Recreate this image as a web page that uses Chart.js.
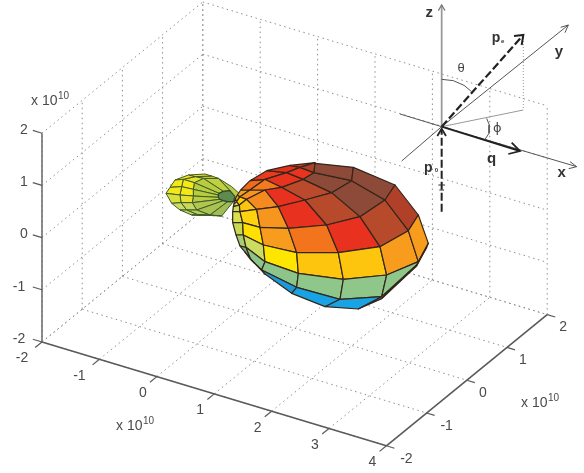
<!DOCTYPE html>
<html><head><meta charset="utf-8">
<style>html,body{margin:0;padding:0;background:#fff}canvas{display:block}</style>
<script src="https://cdn.jsdelivr.net/npm/chart.js@4"></script>
</head><body><canvas id="c" width="584" height="473"></canvas>
<script>
// ---- axis ticks (units of 10^10)
const xTicks=[-2,-1,0,1,2,3,4];
const yTicks=[-2,-1,0,1,2];
const zTicks=[-2,-1,0,1,2];
// ---- large lobe mesh in view-plane units (rows of [h,v])
const largeLobeRows=[
[[252,188],[256,176],[262,165],[272,150],[300,122],[350,92],[420,76],[495,68]],
[[252,192],[260,185],[270,170],[300,150],[345,118],[410,98],[450,82],[495,68]],
[[250,200],[268,195],[290,178],[345,150],[395,142],[460,118],[492,98],[495,70]],
[[248,215],[270,215],[320,208],[385,200],[465,180],[545,158],[605,122],[610,82]],
[[248,248],[278,248],[330,262],[415,265],[530,255],[630,230],[705,180],[735,135]],
[[258,285],[280,285],[340,315],[440,338],[565,338],[690,320],[775,272],[805,225]],
[[270,318],[288,322],[345,365],[445,400],[580,418],[710,405],[805,365],[835,310]],
[[284,335],[302,358],[335,390],[440,442],[570,478],[695,470],[800,375],[830,322]],
[[298,352],[314,370],[345,402],[425,460],[525,500],[625,507],[695,476],[800,378]]
];
const largeLobeColors=[
['#d8c840','#e8b020','#f4a020','#f06a1c','#ec3a1e','#e6301e','#d03a22'],
['#e0d040','#ffd000','#f7941e','#f47a20','#e8331f','#e8331f','#b0402a'],
['#cfdc50','#fdc50e','#f58a1e','#e8311f','#bb4a2c','#8e4a38','#8e4a38'],
['#d8e050','#fdd20e','#f7961e','#e8311f','#b84a2c','#8e4a38','#8e4a38'],
['#c8d850','#ffe000','#f89c1e','#f2741c','#e8311f','#b84a2c','#b04028'],
['#a8cc70','#ccdc60','#ffe600','#fdc50e','#fdc50e','#f89c1e','#f89c1e'],
['#7ab870','#8cc48a','#8cc48a','#8fc78a','#8fc78a','#8fc78a','#8fc78a'],
['#2090b0','#1a9ac8','#1a9ad8','#18a4e4','#18a4e4','#4a9a80','#5a9a70']
];
// ---- small lobe mesh: rays from the neck, each with its ring points
const smallLobeRows=[
[[240,152],[205,115],[185,108],[165,102]],
[[220,154],[160,115],[135,110],[115,105]],
[[207,160],[133,128],[100,118],[75,120]],
[[205,165],[130,148],[95,140],[60,142]],
[[205,172],[130,168],[90,165],[48,160]],
[[210,178],[127,188],[93,188],[65,190]],
[[220,182],[140,210],[110,210],[90,210]],
[[233,185],[180,225],[145,225],[125,225]],
[[250,185],[215,228],[195,227],[175,225]]
];
const smallLobeColors=[
['#c0d040','#e0d830','#e6d830'],
['#b8cc40','#e8e030','#f0e020'],
['#b8cc40','#f5e818','#f5e818'],
['#b8cc40','#f5e818','#f5e818'],
['#b8cc44','#e8e030','#d8e040'],
['#b0c650','#c8d85a','#cddc66'],
['#a8c254','#b8cc5e','#c0d460'],
['#a0bc54','#b0c860','#b0c860']
];
const smallLobeHub=[[240,152],[220,154],[207,160],[205,165],[205,172],[210,178],[220,182],[233,185],[250,185],[255,170]];
const smallLobeBack=[[205,115],[245,140],[273,165],[250,185],[240,152]];
// ---- inset diagram (polylines, view-plane units)
const insetZAxis=[[875,-40],[875,-405]];
const insetZHead=[[865,-388],[875,-405],[885,-388]];
const insetXAxis=[[750,-78],[875,-40],[1280,80]];
const insetXHead=[[1260,65],[1280,80],[1256,86]];
const insetYAxis=[[755,63],[875,-40],[1255,-345]];
const insetYHead=[[1232,-338],[1255,-345],[1245,-322]];
const insetPe=[[875,-40],[1120,-315]];
const insetPeHead=[[1092,-312],[1120,-315],[1115,-285]];
const insetP0=[[875,215],[875,-30]];
const insetP0Head=[[862,-12],[875,-34],[888,-12]];
const insetQ=[[875,-40],[1110,33]];
const insetQHead=[[1085,8],[1110,33],[1075,42]];
const insetDrop=[[1120,-315],[1120,-90]];
const insetFoot=[[875,-40],[1120,-90]];
const insetTheta=[[875,-182],[910,-178],[942,-164],[965,-145]];
const insetPhi=[[1010,-65],[1018,-45],[1017,-20],[1005,-2]];
const insetBar1=[[865,135],[885,135]];
const insetBar2=[[868,150],[882,150]];
// ---- texts
const tickColor='#4a4a4a';
const ux=[172.2,51.9],uy=[120.6,-98.4],uz=[0,-156.6],O=[-324,606];
function project(x,y,z){
  return {x:O[0]+(x+2)*ux[0]+(y+2)*uy[0]+(z+2)*uz[0],
          y:O[1]+(x+2)*ux[1]+(y+2)*uy[1]+(z+2)*uz[1]};
}
const datasets=[];
function addLine(points,color,width,dash){
  datasets.push({type:'scatter',data:points,showLine:true,tension:0,fill:false,
    borderColor:color,borderWidth:width,borderDash:dash||[],pointRadius:0,borderCapStyle:'butt'});
}
function addPoly(pts,fillColor,lineColor,width){
  const closed=pts.concat([pts[0]]).map(p=>({x:p[0],y:p[1]}));
  datasets.push({type:'scatter',data:closed,showLine:true,tension:0,fill:'shape',backgroundColor:fillColor,
    borderColor:lineColor,borderWidth:width,pointRadius:0,borderJoinStyle:'round'});
}
const toXY=a=>a.map(p=>({x:p[0],y:p[1]}));
// grid
const gridColor='#8f8f8f',dots=[1.5,3.5];
xTicks.forEach(x=>{
  addLine([project(x,-2,-2),project(x,2,-2)],gridColor,1,dots);
  addLine([project(x,2,-2),project(x,2,2)],gridColor,1,dots);
});
yTicks.forEach(y=>{
  addLine([project(-2,y,-2),project(4,y,-2)],gridColor,1,dots);
  addLine([project(-2,y,-2),project(-2,y,2)],gridColor,1,dots);
});
zTicks.forEach(z=>{
  addLine([project(-2,-2,z),project(-2,2,z)],gridColor,1,dots);
  addLine([project(-2,2,z),project(4,2,z)],gridColor,1,dots);
});
// axes
const axisColor='#5a5a5a';
addLine([project(-2,-2,-2),project(4,-2,-2)],axisColor,1.6);
addLine([project(4,-2,-2),project(4,2,-2)],axisColor,1.6);
addLine([project(-2,-2,-2),project(-2,-2,2)],'#707070',1.6);
xTicks.forEach(x=>addLine([project(x,-2,-2),project(x,-2.17,-2)],axisColor,1.2));
yTicks.forEach(y=>addLine([project(4,y,-2),project(4.14,y,-2)],axisColor,1.2));
zTicks.forEach(z=>addLine([project(-2,-2,z),project(-2.16,-2,z)],axisColor,1.2));
// small lobe
addPoly(smallLobeBack,'#b8cc48','#3f5a24',1);
for(let r=0;r<smallLobeColors.length;r++)for(let c=0;c<smallLobeColors[r].length;c++){
  const A=smallLobeRows[r],B=smallLobeRows[r+1];
  addPoly([A[c],A[c+1],B[c+1],B[c]],smallLobeColors[r][c],'#3f5a24',1);
}
addPoly(smallLobeHub,'#5f8a50','#2f4a2a',1.2);
// large lobe
for(let r=0;r<largeLobeColors.length;r++)for(let c=0;c<largeLobeColors[r].length;c++){
  const A=largeLobeRows[r],B=largeLobeRows[r+1];
  addPoly([A[c],A[c+1],B[c+1],B[c]],largeLobeColors[r][c],'#33261a',1.2);
}
// inset
addLine(toXY(insetZAxis),'#9a9a9a',1.8);addLine(toXY(insetZHead),'#777',1.2);
addLine(toXY(insetDrop),'#999',1,[1,2]);
addLine(toXY(insetFoot),'#999',1);
addLine(toXY(insetXAxis),'#555',1);addLine(toXY(insetXHead),'#555',1);
addLine(toXY(insetYAxis),'#555',1);addLine(toXY(insetYHead),'#555',1);
addLine(toXY(insetPe),'#222',2.2,[8,3]);addLine(toXY(insetPeHead),'#222',2);
addLine(toXY(insetP0),'#222',2,[8,3]);addLine(toXY(insetP0Head),'#222',1.8);
addLine(toXY(insetQ),'#222',2);addLine(toXY(insetQHead),'#222',1.8);
addLine(toXY(insetTheta),'#555',1);addLine(toXY(insetPhi),'#555',1);
addLine(toXY(insetBar1),'#333',1);addLine(toXY(insetBar2),'#333',1);
// chart draws later datasets first: keep painter order
datasets.forEach((d,i)=>{d.order=datasets.length-i;});

const textPlugin={id:'texts',afterDatasetsDraw(chart){
  const {ctx,scales:{x:sx,y:sy}}=chart;
  const P=p=>({x:sx.getPixelForValue(p.x),y:sy.getPixelForValue(p.y)});
  const T=(s,px,py,font,color,align)=>{ctx.font=font;ctx.fillStyle=color;ctx.textAlign=align||'center';ctx.textBaseline='middle';ctx.fillText(s,px,py);};
  const f='14px "Liberation Sans"';
  ctx.save();
  xTicks.forEach(v=>{const p=P(project(v,-2,-2));T(String(v),p.x-(v<0?20:14),p.y+16.5,f,tickColor);});
  yTicks.forEach(v=>{const p=P(project(4,v,-2));T(String(v),p.x+(v<0?20:16),p.y+13,f,tickColor);});
  zTicks.forEach(v=>{const p=P(project(-2,-2,v));T(String(v),p.x-(v<0?23:18),p.y-3,f,tickColor);});
  const mult=(p)=>{T('x 10',p[0],p[1],f,tickColor,'left');T('10',p[0]+27,p[1]-5,'10px "Liberation Sans"',tickColor,'left');};
  mult([31,101]);mult([116,426]);mult([521,403]);
  const b='bold 15px "Liberation Sans"';
  const inset=(s,zx,zy,font,color)=>{const p=P({x:720+zx,y:zy-420});T(s,p.x,p.y,font,color||'#333');};
  inset('z',118,38,b);inset('y',507,155,b);inset('x',515,520,b);inset('q',305,478,b);
  inset('p',318,113,'bold 14px "Liberation Sans"');inset('e',338,124,'bold 6px "Liberation Sans"');
  inset('p',115,503,'bold 14px "Liberation Sans"');inset('0',139,512,'bold 6px "Liberation Sans"');
  inset('θ',213,205,'13px "Liberation Sans"','#444');inset('ϕ',322,385,'13px "DejaVu Sans"','#444');
  ctx.restore();
}};
new Chart(document.getElementById('c'),{
  type:'scatter',
  data:{datasets},
  options:{responsive:false,animation:false,
    layout:{padding:0},
    plugins:{legend:{display:false},tooltip:{enabled:false}},
    scales:{
      x:{type:'linear',min:-450,max:1302,display:false},
      y:{type:'linear',min:-420,max:999,reverse:true,display:false}
    }},
  plugins:[textPlugin]
});
</script></body></html>
